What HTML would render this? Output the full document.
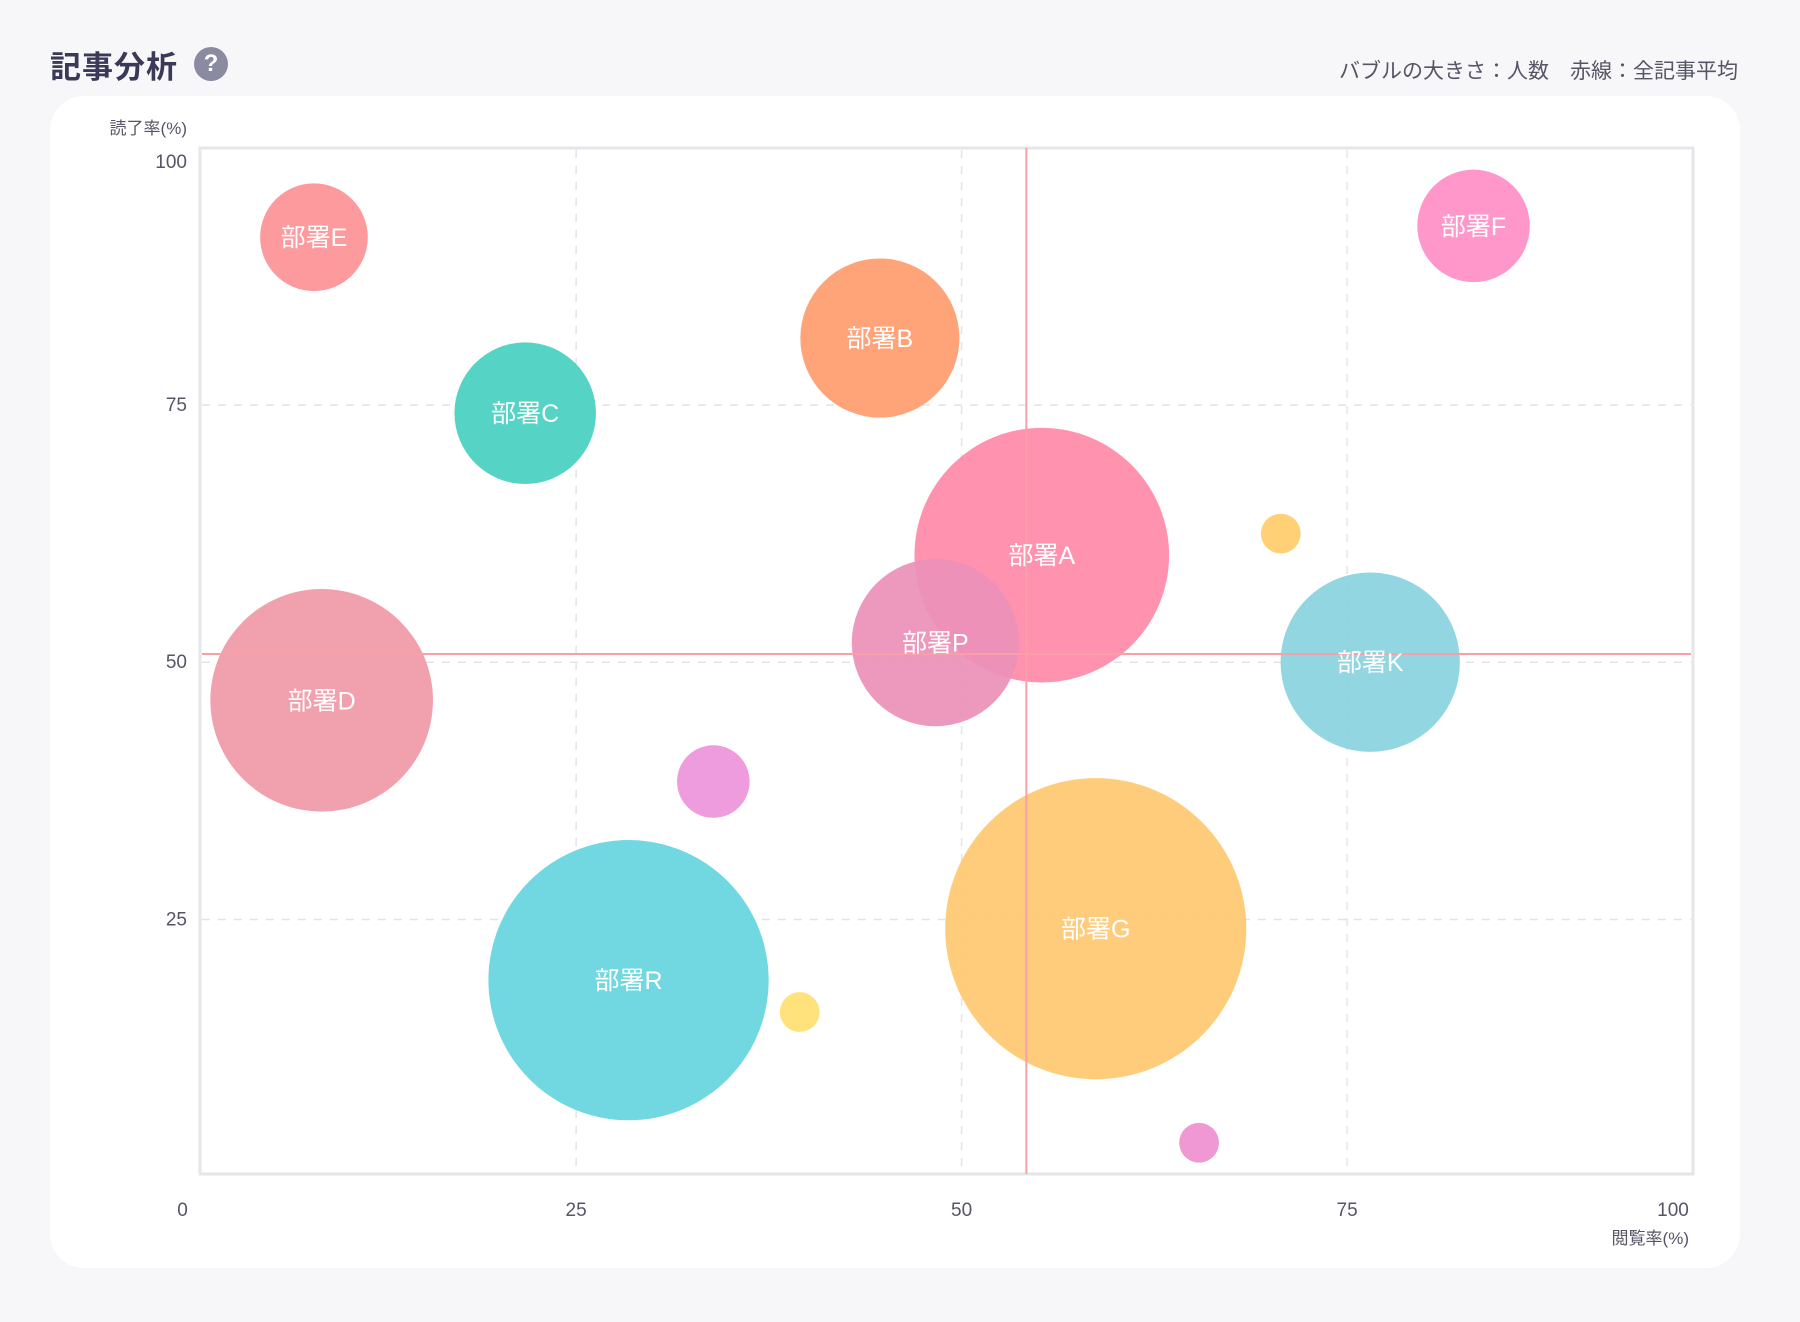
<!DOCTYPE html>
<html><head><meta charset="utf-8">
<style>
body{margin:0;width:1800px;height:1322px;background:#f7f7f9;font-family:"Liberation Sans","Noto Sans CJK JP",sans-serif;overflow:hidden;position:relative}
.title{position:absolute;left:50px;top:42px;font-size:31px;font-weight:bold;color:#3a3a58;letter-spacing:1px}
.help{position:absolute;left:194px;top:47px;width:34px;height:34px;border-radius:50%;background:#8a8aa0;color:#fff;font-size:24px;text-align:center;line-height:34px;font-weight:bold}
.note{position:absolute;right:62px;top:55px;font-size:21px;color:#555566}
.panel{position:absolute;left:50px;top:96px;width:1690px;height:1172px;background:#fff;border-radius:34px}
svg{position:absolute;left:0;top:0}
</style></head><body>
<div class="title">記事分析</div>
<div class="help">?</div>
<div class="note">バブルの大きさ：人数　赤線：全記事平均</div>
<div class="panel"></div>
<svg id="chart" width="1800" height="1322"></svg>
<script>
const names=["部署E","部署F","部署B","部署C","部署A","","部署P","部署K","部署D","","部署R","","部署G",""];
const xValues=[8.0,83.2,44.7,21.7,55.2,70.7,48.3,76.5,8.5,33.9,28.4,39.5,58.7,65.4];
const yValues=[91.3,92.4,81.5,74.2,60.4,62.5,51.9,50.0,46.3,38.4,19.1,16.0,24.1,3.3];
const counts=[22,24,48,38,123,3,53,61,94,10,149,3,172,3];
const colors=["#fd9195","#ff8ec6","#ff9b6e","#46cfc0","#ff8aa8","#ffcc6a","#ec90b8","#88d3dd","#f099a7","#ee94dc","#65d5de","#ffe070","#ffc870","#ef8fcf"];
const xTicks=[0,25,50,75,100];
const yTicks=[25,50,75,100];
const avgX=54.2, avgY=50.8;
const NS="http://www.w3.org/2000/svg";
const svg=document.getElementById('chart');
const X=v=>190.6+v*15.42;
const Y=v=>1176.7-v*10.29;
const R=n=>11.48*Math.sqrt(n);
function mk(t,a){const e=document.createElementNS(NS,t);for(const k in a)e.setAttribute(k,a[k]);svg.appendChild(e);return e;}
xTicks.forEach(v=>{if(v>0&&v<100){const l=mk('line',{x1:X(v),x2:X(v),y1:150,y2:1172,stroke:'#e4e4e8','stroke-width':1.5,'stroke-dasharray':'8 8'});

}
const t=mk('text',{x:v===0?X(v)-8:Math.min(X(v),1673),y:1216,'text-anchor':'middle','font-size':19,fill:'#555566'});t.textContent=v;

});
yTicks.forEach(v=>{if(v<100){const l=mk('line',{x1:202,x2:1691,y1:Y(v),y2:Y(v),stroke:'#e4e4e8','stroke-width':1.5,'stroke-dasharray':'8 8'});

}
const t=mk('text',{x:187,y:(v===100?162:Y(v))+6,'text-anchor':'end','font-size':19,fill:'#555566'});t.textContent=v;

});
const b=mk('rect',{x:200,y:148,width:1493,height:1026,fill:'none',stroke:'#e6e6ea','stroke-width':3});


names.forEach((n,i)=>{const c=mk('circle',{cx:X(xValues[i]),cy:Y(yValues[i]),r:R(counts[i]),fill:colors[i],'fill-opacity':0.92});

});
const lv=mk('line',{x1:X(avgX),x2:X(avgX),y1:148,y2:1174,stroke:'#f7a0a8','stroke-width':2});


const lh=mk('line',{x1:202,x2:1691,y1:Y(avgY),y2:Y(avgY),stroke:'#f7a0a8','stroke-width':2});


names.forEach((n,i)=>{if(!n)return;const t=mk('text',{x:X(xValues[i]),y:Y(yValues[i])+9,'text-anchor':'middle','font-size':25,fill:'#fff'});t.textContent=n;

});
const yt=mk('text',{x:187,y:134,'text-anchor':'end','font-size':17,fill:'#555566'});yt.textContent='読了率(%)';


const xt=mk('text',{x:1689,y:1244,'text-anchor':'end','font-size':17,fill:'#555566'});xt.textContent='閲覧率(%)';


</script>
</body></html>
